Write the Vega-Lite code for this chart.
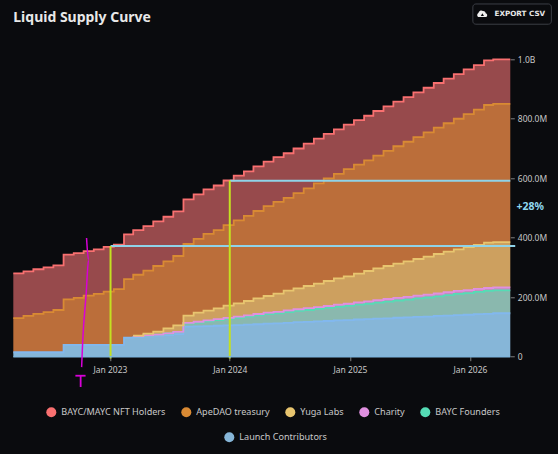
{"$schema":"https://vega.github.io/schema/vega-lite/v6.json","width":497,"height":297.4,"autosize":"none","padding":{"left":13.3,"top":59.3,"right":48,"bottom":97},"background":"#0a0b0e","title":{"text":"Liquid Supply Curve","anchor":"start","frame":"group","offset":-22,"color":"#e8e8e8","font":"Noto Sans","fontSize":14,"fontWeight":"bold"},"config":{"view":{"stroke":null},"font":"Noto Sans"},"layer":[{"data":{"values":[{"d":"2022-03-13","Launch Contributors":15,"BAYC Founders":0,"Charity":0,"Yuga Labs":0,"ApeDAO treasury":115,"BAYC/MAYC NFT Holders":150},{"d":"2022-04-13","Launch Contributors":15,"BAYC Founders":0,"Charity":0,"Yuga Labs":0,"ApeDAO treasury":122,"BAYC/MAYC NFT Holders":150},{"d":"2022-05-13","Launch Contributors":15,"BAYC Founders":0,"Charity":0,"Yuga Labs":0,"ApeDAO treasury":129,"BAYC/MAYC NFT Holders":150},{"d":"2022-06-13","Launch Contributors":15,"BAYC Founders":0,"Charity":0,"Yuga Labs":0,"ApeDAO treasury":135,"BAYC/MAYC NFT Holders":150},{"d":"2022-07-13","Launch Contributors":15,"BAYC Founders":0,"Charity":0,"Yuga Labs":0,"ApeDAO treasury":142,"BAYC/MAYC NFT Holders":150},{"d":"2022-08-13","Launch Contributors":40,"BAYC Founders":0,"Charity":0,"Yuga Labs":0,"ApeDAO treasury":153,"BAYC/MAYC NFT Holders":150},{"d":"2022-09-13","Launch Contributors":40,"BAYC Founders":0,"Charity":0,"Yuga Labs":0,"ApeDAO treasury":158,"BAYC/MAYC NFT Holders":150},{"d":"2022-10-13","Launch Contributors":40,"BAYC Founders":0,"Charity":0,"Yuga Labs":0,"ApeDAO treasury":165,"BAYC/MAYC NFT Holders":150},{"d":"2022-11-13","Launch Contributors":40,"BAYC Founders":0,"Charity":0,"Yuga Labs":0,"ApeDAO treasury":171,"BAYC/MAYC NFT Holders":150},{"d":"2022-12-13","Launch Contributors":40,"BAYC Founders":0,"Charity":0,"Yuga Labs":0,"ApeDAO treasury":179,"BAYC/MAYC NFT Holders":150},{"d":"2023-01-13","Launch Contributors":40,"BAYC Founders":0,"Charity":0,"Yuga Labs":0,"ApeDAO treasury":187,"BAYC/MAYC NFT Holders":150},{"d":"2023-02-13","Launch Contributors":64,"BAYC Founders":0,"Charity":0,"Yuga Labs":0,"ApeDAO treasury":197,"BAYC/MAYC NFT Holders":150},{"d":"2023-03-13","Launch Contributors":66,"BAYC Founders":3,"Charity":0.5,"Yuga Labs":1,"ApeDAO treasury":205,"BAYC/MAYC NFT Holders":150},{"d":"2023-04-13","Launch Contributors":68,"BAYC Founders":3,"Charity":0.5,"Yuga Labs":5.8,"ApeDAO treasury":212,"BAYC/MAYC NFT Holders":150},{"d":"2023-05-13","Launch Contributors":71,"BAYC Founders":3,"Charity":0.5,"Yuga Labs":9.5,"ApeDAO treasury":221,"BAYC/MAYC NFT Holders":150},{"d":"2023-06-13","Launch Contributors":73,"BAYC Founders":5,"Charity":0.5,"Yuga Labs":17,"ApeDAO treasury":225,"BAYC/MAYC NFT Holders":150},{"d":"2023-07-13","Launch Contributors":76,"BAYC Founders":7,"Charity":0.5,"Yuga Labs":22,"ApeDAO treasury":233,"BAYC/MAYC NFT Holders":150},{"d":"2023-08-13","Launch Contributors":101,"BAYC Founders":11,"Charity":2,"Yuga Labs":24,"ApeDAO treasury":241,"BAYC/MAYC NFT Holders":150},{"d":"2023-09-13","Launch Contributors":102,"BAYC Founders":13,"Charity":2.5,"Yuga Labs":30.5,"ApeDAO treasury":248,"BAYC/MAYC NFT Holders":150},{"d":"2023-10-13","Launch Contributors":103,"BAYC Founders":16,"Charity":3,"Yuga Labs":32.7,"ApeDAO treasury":258,"BAYC/MAYC NFT Holders":150},{"d":"2023-11-13","Launch Contributors":104,"BAYC Founders":19,"Charity":3,"Yuga Labs":36.7,"ApeDAO treasury":263,"BAYC/MAYC NFT Holders":150},{"d":"2023-12-13","Launch Contributors":105,"BAYC Founders":22,"Charity":3.5,"Yuga Labs":41,"ApeDAO treasury":271,"BAYC/MAYC NFT Holders":150},{"d":"2024-01-13","Launch Contributors":106,"BAYC Founders":25,"Charity":4,"Yuga Labs":44.6,"ApeDAO treasury":279,"BAYC/MAYC NFT Holders":150},{"d":"2024-02-13","Launch Contributors":108,"BAYC Founders":27,"Charity":4,"Yuga Labs":48.3,"ApeDAO treasury":286,"BAYC/MAYC NFT Holders":150},{"d":"2024-03-13","Launch Contributors":109,"BAYC Founders":30,"Charity":4.5,"Yuga Labs":52.9,"ApeDAO treasury":293.5,"BAYC/MAYC NFT Holders":150},{"d":"2024-04-13","Launch Contributors":111,"BAYC Founders":32,"Charity":5,"Yuga Labs":56,"ApeDAO treasury":302,"BAYC/MAYC NFT Holders":150},{"d":"2024-05-13","Launch Contributors":112,"BAYC Founders":34,"Charity":5,"Yuga Labs":60.8,"ApeDAO treasury":309,"BAYC/MAYC NFT Holders":150},{"d":"2024-06-13","Launch Contributors":114,"BAYC Founders":36,"Charity":5.5,"Yuga Labs":66.5,"ApeDAO treasury":312,"BAYC/MAYC NFT Holders":150},{"d":"2024-07-13","Launch Contributors":116,"BAYC Founders":38,"Charity":5.5,"Yuga Labs":70.5,"ApeDAO treasury":320,"BAYC/MAYC NFT Holders":150},{"d":"2024-08-13","Launch Contributors":117,"BAYC Founders":40,"Charity":6,"Yuga Labs":74.7,"ApeDAO treasury":328.5,"BAYC/MAYC NFT Holders":150},{"d":"2024-09-13","Launch Contributors":119,"BAYC Founders":42,"Charity":6,"Yuga Labs":78.5,"ApeDAO treasury":337.5,"BAYC/MAYC NFT Holders":150},{"d":"2024-10-13","Launch Contributors":120,"BAYC Founders":44,"Charity":6.5,"Yuga Labs":84,"ApeDAO treasury":345,"BAYC/MAYC NFT Holders":150},{"d":"2024-11-13","Launch Contributors":122,"BAYC Founders":46,"Charity":7,"Yuga Labs":88.6,"ApeDAO treasury":351,"BAYC/MAYC NFT Holders":150},{"d":"2024-12-13","Launch Contributors":123,"BAYC Founders":48,"Charity":7,"Yuga Labs":92.4,"ApeDAO treasury":360,"BAYC/MAYC NFT Holders":150},{"d":"2025-01-13","Launch Contributors":125,"BAYC Founders":50,"Charity":7.5,"Yuga Labs":96.6,"ApeDAO treasury":366.5,"BAYC/MAYC NFT Holders":150},{"d":"2025-02-13","Launch Contributors":126,"BAYC Founders":52,"Charity":8,"Yuga Labs":102.2,"ApeDAO treasury":372,"BAYC/MAYC NFT Holders":150},{"d":"2025-03-13","Launch Contributors":128,"BAYC Founders":54,"Charity":8,"Yuga Labs":107.2,"ApeDAO treasury":379,"BAYC/MAYC NFT Holders":150},{"d":"2025-04-13","Launch Contributors":129,"BAYC Founders":56,"Charity":9,"Yuga Labs":111,"ApeDAO treasury":387,"BAYC/MAYC NFT Holders":150},{"d":"2025-05-13","Launch Contributors":131,"BAYC Founders":58,"Charity":9,"Yuga Labs":114.7,"ApeDAO treasury":395,"BAYC/MAYC NFT Holders":150},{"d":"2025-06-13","Launch Contributors":132,"BAYC Founders":60,"Charity":9,"Yuga Labs":119.8,"ApeDAO treasury":402,"BAYC/MAYC NFT Holders":150},{"d":"2025-07-13","Launch Contributors":134,"BAYC Founders":62,"Charity":9.5,"Yuga Labs":123,"ApeDAO treasury":410,"BAYC/MAYC NFT Holders":150},{"d":"2025-08-13","Launch Contributors":135,"BAYC Founders":64,"Charity":9.5,"Yuga Labs":127.8,"ApeDAO treasury":418,"BAYC/MAYC NFT Holders":150},{"d":"2025-09-13","Launch Contributors":137,"BAYC Founders":66,"Charity":9.5,"Yuga Labs":132.8,"ApeDAO treasury":425,"BAYC/MAYC NFT Holders":150},{"d":"2025-10-13","Launch Contributors":138,"BAYC Founders":69,"Charity":10,"Yuga Labs":136,"ApeDAO treasury":432,"BAYC/MAYC NFT Holders":150},{"d":"2025-11-13","Launch Contributors":140,"BAYC Founders":71,"Charity":10,"Yuga Labs":140.1,"ApeDAO treasury":439,"BAYC/MAYC NFT Holders":150},{"d":"2025-12-13","Launch Contributors":141,"BAYC Founders":73,"Charity":10,"Yuga Labs":144.9,"ApeDAO treasury":447,"BAYC/MAYC NFT Holders":150},{"d":"2026-01-13","Launch Contributors":143,"BAYC Founders":75,"Charity":10,"Yuga Labs":147.6,"ApeDAO treasury":455,"BAYC/MAYC NFT Holders":150},{"d":"2026-02-13","Launch Contributors":144,"BAYC Founders":77,"Charity":10,"Yuga Labs":152.3,"ApeDAO treasury":463,"BAYC/MAYC NFT Holders":150},{"d":"2026-03-13","Launch Contributors":146,"BAYC Founders":77,"Charity":10,"Yuga Labs":152,"ApeDAO treasury":465,"BAYC/MAYC NFT Holders":150},{"d":"2026-04-13","Launch Contributors":146,"BAYC Founders":77,"Charity":10,"Yuga Labs":152,"ApeDAO treasury":465,"BAYC/MAYC NFT Holders":150},{"d":"2026-05-04","Launch Contributors":146,"BAYC Founders":77,"Charity":10,"Yuga Labs":152,"ApeDAO treasury":465,"BAYC/MAYC NFT Holders":150}]},"transform":[{"fold":["Launch Contributors","BAYC Founders","Charity","Yuga Labs","ApeDAO treasury","BAYC/MAYC NFT Holders"],"as":["series","tokens"]},{"window":[{"op":"row_number","as":"idx"}],"groupby":["d"]}],"layer":[{"mark":{"type":"area","interpolate":"step-after"},"encoding":{"x":{"field":"d","type":"temporal","scale":{"domain":["2022-03-13","2026-05-04"]},"axis":{"title":null,"grid":false,"domain":false,"tickCount":{"interval":"year","step":1},"format":"%b %Y","labelColor":"#c8c8c8","labelFontSize":8.5,"labelPadding":5,"tickColor":"#808080","tickSize":4}},"y":{"field":"tokens","type":"quantitative","stack":"zero","scale":{"domain":[0,1000],"nice":false},"axis":{"orient":"right","title":null,"grid":false,"domain":false,"values":[0,200,400,600,800,1000],"labelExpr":"datum.value==0?'0':datum.value>=1000?'1.0B':format(datum.value,'.1f')+'M'","labelColor":"#c8c8c8","labelFontSize":8.5,"labelPadding":3,"tickColor":"#808080","tickSize":4}},"order":{"field":"idx","type":"quantitative"},"fill":{"field":"series","type":"nominal","scale":{"domain":["Launch Contributors","BAYC Founders","Charity","Yuga Labs","ApeDAO treasury","BAYC/MAYC NFT Holders"],"range":["#86b6d8","#8ab8ae","#c48fbf","#cda05f","#bb6e3a","#974a4c"]},"legend":{"orient":"none","legendX":211,"legendY":373,"padding":0,"title":null,"values":["Launch Contributors"],"symbolType":"circle","symbolSize":100,"symbolStrokeWidth":0,"labelColor":"#c8c8c8","labelFontSize":9.1,"labelOffset":5,"encode":{"symbols":{"update":{"fill":{"value":"#82b8ee"},"fillOpacity":{"value":1}}}}}}}},{"transform":[{"filter":"datum.tokens>0"}],"mark":{"type":"line","interpolate":"step-after","strokeWidth":1.8},"encoding":{"x":{"field":"d","type":"temporal"},"y":{"field":"tokens","type":"quantitative","stack":"zero","impute":null},"order":{"field":"idx","type":"quantitative"},"stroke":{"field":"series","type":"nominal","scale":{"domain":["BAYC/MAYC NFT Holders","ApeDAO treasury","Yuga Labs","Charity","BAYC Founders","Launch Contributors"],"range":["#f97070","#d98a33","#e8c56f","#e090e0","#55dcb5","#82b8ee"]},"legend":{"orient":"none","legendX":33,"legendY":347.5,"padding":0,"title":null,"columns":5,"columnPadding":15,"values":["BAYC/MAYC NFT Holders","ApeDAO treasury","Yuga Labs","Charity","BAYC Founders"],"symbolType":"circle","symbolSize":100,"symbolStrokeWidth":0,"labelColor":"#c8c8c8","labelFontSize":9.1,"labelOffset":5,"encode":{"symbols":{"update":{"fill":{"scale":"stroke","field":"value"},"fillOpacity":{"value":1}}}}}}}}]},{"data":{"values":[{"a":"2023-01-03","b":"2026-05-19","t":372},{"a":"2024-01-01","b":"2026-05-04","t":592}]},"mark":{"type":"rule","color":"#8fd3e8","strokeWidth":2},"encoding":{"x":{"field":"a","type":"temporal"},"x2":{"field":"b"},"y":{"field":"t","type":"quantitative"}}},{"data":{"values":[{"a":"2023-01-03","t":372,"u":-6},{"a":"2024-01-01","t":592,"u":-6}]},"mark":{"type":"rule","color":"#c3e021","strokeWidth":2},"encoding":{"x":{"field":"a","type":"temporal"},"y":{"field":"t","type":"quantitative"},"y2":{"field":"u"}}},{"data":{"values":[{"a":"2022-03-13","b":"2026-05-04","t":0}]},"mark":{"type":"rule","color":"#7fb5dc","strokeWidth":1.5},"encoding":{"x":{"field":"a","type":"temporal"},"x2":{"field":"b"},"y":{"field":"t","type":"quantitative"}}},{"data":{"values":[{"a":"2022-10-22","t":399,"n":1},{"a":"2022-10-28","t":325,"n":2},{"a":"2022-10-21","t":214,"n":3},{"a":"2022-10-10","t":46,"n":4},{"a":"2022-10-07","t":-35,"n":5}]},"mark":{"type":"line","color":"#d800d8","strokeWidth":1.5,"interpolate":"monotone"},"encoding":{"x":{"field":"a","type":"temporal"},"y":{"field":"t","type":"quantitative"},"order":{"field":"n","type":"quantitative"}}},{"data":{"values":[{"a":"2022-09-18","b":"2022-10-19","t":-64,"u":-64},{"a":"2022-10-04","b":"2022-10-04","t":-64,"u":-102}]},"mark":{"type":"rule","color":"#d800d8","strokeWidth":1.8},"encoding":{"x":{"field":"a","type":"temporal"},"x2":{"field":"b"},"y":{"field":"t","type":"quantitative"},"y2":{"field":"u"}}},{"data":{"values":[{"a":"2026-05-23","t":502,"label":"+28%"}]},"mark":{"type":"text","align":"left","baseline":"middle","color":"#8fd8f0","fontSize":10.5,"fontWeight":"bold"},"encoding":{"x":{"field":"a","type":"temporal"},"y":{"field":"t","type":"quantitative"},"text":{"field":"label"}}},{"data":{"values":[{"a":"2026-01-10","b":"2026-09-06","t":1186,"u":1118}]},"mark":{"type":"rect","fill":"#0a0b0e","stroke":"#3c3f46","strokeWidth":1,"cornerRadius":3},"encoding":{"x":{"field":"a","type":"temporal"},"x2":{"field":"b"},"y":{"field":"t","type":"quantitative"},"y2":{"field":"u"}}},{"data":{"values":[{"a":"2026-02-08","t":1152}]},"mark":{"type":"point","filled":true,"color":"#f0f0f0","opacity":1,"size":121,"shape":"M-0.65,0.55 A0.4,0.4 0 0 1 -0.7,-0.2 A0.5,0.5 0 0 1 0.1,-0.55 A0.45,0.45 0 0 1 0.6,-0.15 A0.36,0.36 0 0 1 0.6,0.55 Z"},"encoding":{"x":{"field":"a","type":"temporal"},"y":{"field":"t","type":"quantitative"}}},{"data":{"values":[{"a":"2026-02-08","t":1150}]},"mark":{"type":"point","filled":true,"color":"#0a0b0e","opacity":1,"size":10,"shape":"triangle-up"},"encoding":{"x":{"field":"a","type":"temporal"},"y":{"field":"t","type":"quantitative"}}},{"data":{"values":[{"a":"2026-03-17","t":1152,"label":"EXPORT CSV"}]},"mark":{"type":"text","align":"left","baseline":"middle","color":"#e8e8e8","font":"DejaVu Sans","fontSize":7.2,"fontWeight":"bold"},"encoding":{"x":{"field":"a","type":"temporal"},"y":{"field":"t","type":"quantitative"},"text":{"field":"label"}}}]}
